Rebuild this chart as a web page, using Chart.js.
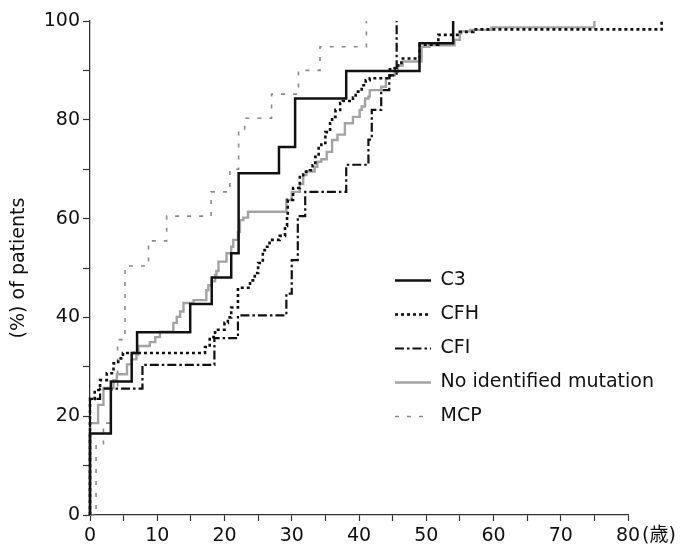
<!DOCTYPE html>
<html><head><meta charset="utf-8">
<script src="https://cdn.jsdelivr.net/npm/chart.js@4"></script>
<style>html,body{margin:0;padding:0;background:#fff;}canvas{display:block;}</style>
</head><body>
<canvas id="c" width="685" height="551"></canvas>
<script>
// ---- data (age in years, cumulative % of patients) ----
const seriesNames = ['C3', 'CFH', 'CFI', 'No identified mutation', 'MCP'];
const xTickLabels = [0, 10, 20, 30, 40, 50, 60, 70, 80];
const yTickLabels = [0, 20, 40, 60, 80, 100];
const xUnit = '(歳)';
const yTitle = '(%) of patients';

const c3Age = [0, 0, 3.1, 6.2, 7.0, 14.9, 18.1, 21.0, 22.1, 28.1, 30.5, 38.1, 49.0, 54.0];
const c3Pct = [0, 16.5, 27, 32.8, 37, 42.7, 48.1, 53, 69.2, 74.5, 84.3, 89.9, 95.5, 100];

const cfhAge = [0, 0, 0.7, 1.5, 2.5, 3.5, 4.2, 4.9, 17.1, 17.8, 18.6, 20.0, 20.5, 21.0, 22.0,
  23.8, 24.5, 25.0, 25.7, 26.0, 26.7, 28.2, 29.0, 29.3, 29.4, 30.2, 31.2, 31.7, 32.7,
  33.1, 33.5, 34.0, 34.4, 35.0, 35.7, 36.0, 36.5, 37.2, 37.6, 39.1, 39.5, 40.4, 41.0,
  41.6, 44.6, 45.3, 46.3, 49.0, 51.8, 55.0, 57.0, 85.0];
const cfhPct = [0, 23.5, 25.3, 27.3, 28.7, 30.7, 31.7, 32.8, 34, 36, 37.5, 38.9, 40, 42, 46,
  47.5, 49, 51, 53.6, 54.3, 55.7, 56.5, 58.5, 60.4, 63.8, 66.2, 68.8, 69.5, 69.8,
  70.8, 72.5, 74.3, 75.3, 77.5, 79.3, 80.6, 82, 83.4, 83.8, 84.5, 85.7, 87, 88,
  88.4, 90.2, 91, 92.4, 95.2, 97.2, 97.8, 98.3, 100];

const cfiAge = [0, 0, 1.5, 7.8, 18.5, 22.0, 29.2, 30.0, 30.9, 32.0, 38.1, 41.4, 41.9, 43.3, 44.5, 45.6];
const cfiPct = [0, 23.5, 25.6, 30.4, 35.8, 40.4, 44.8, 51.6, 60.5, 65.4, 70.9, 76, 82, 86, 89, 100];

const noneAge = [0, 0, 1.2, 2.0, 3.5, 4.0, 5.5, 6.2, 6.9, 7.2, 8.9, 9.7, 10.4, 12.4, 12.9, 13.4, 13.9,
  15.4, 17.3, 17.6, 18.1, 18.6, 18.8, 19.1, 20.3, 21.0, 21.3, 22.0, 22.3, 22.8, 23.5, 29.2, 30.0,
  31.2, 31.7, 32.2, 33.4, 33.8, 34.4, 35.2, 36.0, 36.8, 37.9, 39.1, 40.1, 40.4, 40.9, 41.4, 41.6,
  43.3, 44.0, 44.6, 45.3, 45.8, 46.5, 49.3, 50.5, 54.2, 55.0, 55.2, 56.5, 59.7, 75.0];
const nonePct = [0, 18.6, 22.3, 25.7, 27.3, 28.5, 30.5, 31.5, 32.5, 34.2, 35.0, 36.0, 37.1, 38.9, 40.1, 41.2, 42.9,
  43.5, 45.5, 46.5, 47.3, 48.6, 49.4, 51.3, 53, 54.3, 55.7, 57.3, 59.7, 60.2, 61.4, 63.8, 65.4,
  67, 68.8, 69.5, 70.5, 71.5, 72, 73.5, 75.9, 77, 79.3, 80.6, 82, 82.7, 84.3, 84.7, 86,
  86.7, 88.4, 89.0, 89.7, 91, 91.8, 94.8, 95.1, 96.2, 97.5, 97.9, 98.2, 98.7, 100];

const mcpAge = [0, 0.9, 2.0, 3.1, 4.1, 5.2, 8.7, 11.4, 18.0, 20.8, 22.1, 23.0, 27.0, 31.0, 34.2, 41.1];
const mcpPct = [0, 14.2, 18.6, 25.3, 35.5, 50.4, 55.5, 60.5, 65.4, 70, 78, 80.3, 85.2, 90, 94.8, 100];

// ---- chart ----
const FONT = "'DejaVu Sans', 'Noto Sans CJK JP', sans-serif";
Chart.defaults.font.family = FONT;
Chart.defaults.font.size = 19;
Chart.defaults.color = '#111';

function toPts(ages, pcts) { return ages.map((a, i) => ({ x: a, y: pcts[i] })); }
function series(i, ages, pcts, style) {
  return Object.assign({
    label: seriesNames[i], data: toPts(ages, pcts), stepped: 'before',
    pointRadius: 0, fill: false, clip: false, tension: 0,
    borderCapStyle: 'butt', borderJoinStyle: 'miter'
  }, style);
}

const legendPos = {
  id: 'legendPos',
  afterLayout(chart) {
    const l = chart.legend; if (!l) return;
    const w = l.width, h = l.height;
    l.left = 380; l.top = 256; l.right = 380 + w; l.bottom = 256 + h;
  }
};
const unitLabel = {
  id: 'unitLabel',
  afterDraw(chart) {
    const xs = chart.scales.x, ctx = chart.ctx;
    ctx.save();
    ctx.font = '19px ' + FONT;
    ctx.fillStyle = '#111';
    ctx.textAlign = 'left';
    ctx.textBaseline = 'middle';
    ctx.fillText(xUnit, xs.getPixelForValue(80) + 14, xs.top + 6 + 4 + 11.4);
    ctx.restore();
  }
};

new Chart(document.getElementById('c'), {
  type: 'line',
  data: {
    datasets: [
      series(0, c3Age, c3Pct, { borderColor: '#111', borderWidth: 2.5, borderDash: [] }),
      series(1, cfhAge, cfhPct, { borderColor: '#111', borderWidth: 2.6, borderDash: [3, 3] }),
      series(2, cfiAge, cfiPct, { borderColor: '#111', borderWidth: 2.2, borderDash: [9, 3, 2.5, 3] }),
      series(3, noneAge, nonePct, { borderColor: '#a3a3a3', borderWidth: 2.4, borderDash: [] }),
      series(4, mcpAge, mcpPct, { borderColor: '#8a8a8a', borderWidth: 1.6, borderDash: [4, 8] })
    ]
  },
  options: {
    responsive: false, animation: false, devicePixelRatio: 1,
    layout: { padding: { left: 0, right: 57, top: 21, bottom: 0 } },
    plugins: {
      tooltip: { enabled: false },
      legend: {
        position: 'chartArea', align: 'start',
        labels: {
          usePointStyle: true, pointStyle: 'line', pointStyleWidth: 36,
          padding: 15, color: '#111', font: { family: FONT, size: 19 },
          generateLabels(chart) {
            return chart.data.datasets.map((d, i) => ({
              text: d.label, datasetIndex: i, hidden: false,
              strokeStyle: d.borderColor, fillStyle: d.borderColor,
              lineWidth: d.borderWidth, lineDash: d.borderDash, lineCap: 'butt',
              pointStyle: 'line', fontColor: '#111'
            }));
          }
        }
      }
    },
    scales: {
      x: {
        type: 'linear', min: 0,
        afterDataLimits(s) { s.max = 80; },
        afterFit(s) { s.height = 36; },
        ticks: {
          stepSize: 5, autoSkip: false, maxRotation: 0, padding: 4, color: '#111',
          font: { family: FONT, size: 19 },
          callback: v => xTickLabels.includes(v) ? String(v) : ''
        },
        grid: { drawOnChartArea: false, tickLength: 6, color: '#333', tickWidth: 1.2 },
        border: { color: '#333', width: 1.3 }
      },
      y: {
        min: 0, max: 100,
        afterFit(s) { s.width = 90; },
        ticks: {
          stepSize: 10, autoSkip: false, padding: 3, color: '#111',
          font: { family: FONT, size: 19 },
          callback: v => yTickLabels.includes(v) ? String(v) : ''
        },
        grid: { drawOnChartArea: false, tickLength: 7, color: '#333', tickWidth: 1.2 },
        border: { color: '#333', width: 1.3 },
        title: { display: true, text: yTitle, color: '#111', font: { family: FONT, size: 19 }, padding: { top: 8, bottom: 0 } }
      }
    }
  },
  plugins: [legendPos, unitLabel]
});
</script>
</body></html>
